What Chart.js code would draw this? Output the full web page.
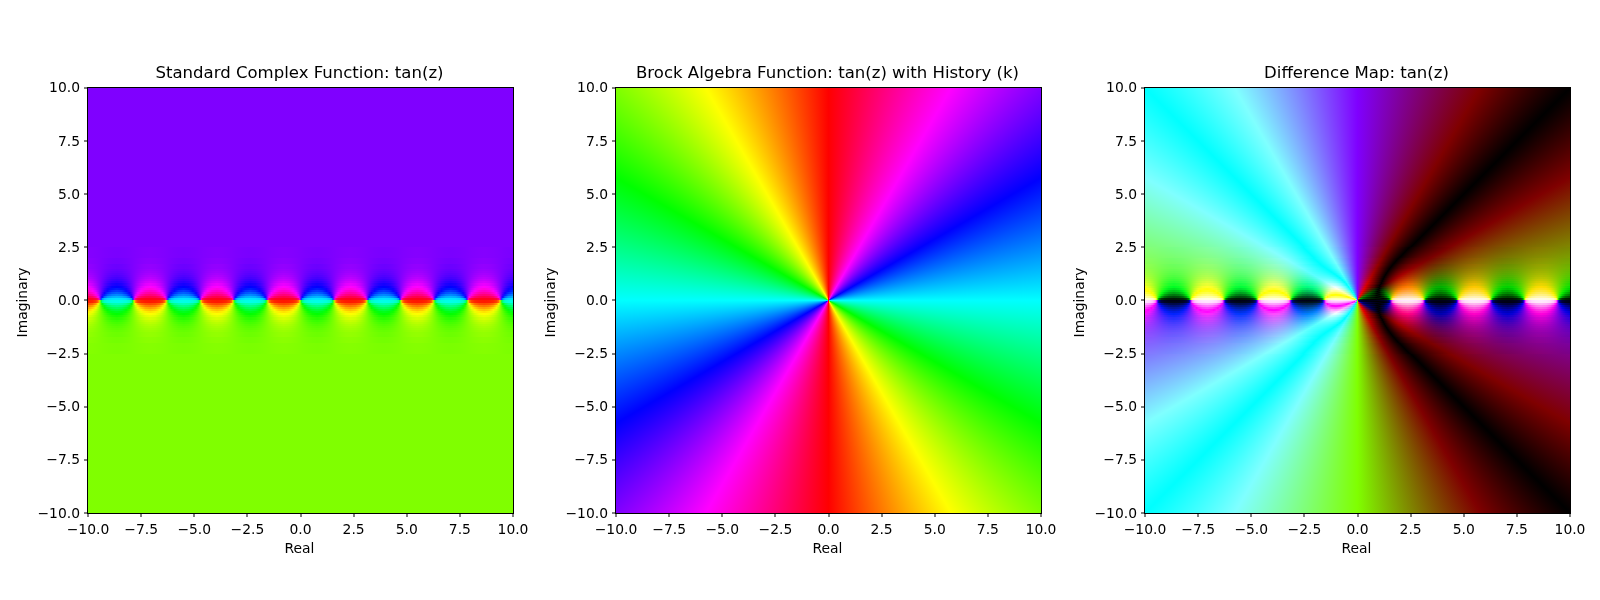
<!DOCTYPE html>
<html><head><meta charset="utf-8">
<script src="https://cdn.jsdelivr.net/npm/chart.js@4"></script>
<style>
html,body{margin:0;padding:0;background:#fff;width:1600px;height:600px;overflow:hidden}
.p{position:absolute;top:0;height:600px;width:544px}
canvas{display:block}
</style></head><body>
<div class="p" style="left:0"><canvas id="c1"></canvas></div>
<div class="p" style="left:528px"><canvas id="c2"></canvas></div>
<div class="p" style="left:1057px"><canvas id="c3"></canvas></div>
<script>
const titles = ['Standard Complex Function: tan(z)','Brock Algebra Function: tan(z) with History (k)','Difference Map: tan(z)'];
const xLabel = 'Real';
const yLabel = 'Imaginary';
const tickValues = [-10,-7.5,-5,-2.5,0,2.5,5,7.5,10];

// Panel 2: hue read around the origin (angle ccw from +Real, degrees)
const wheelAngles = [0,30,60,90,120,150,180,210,240,270,300,330,360];
const wheelHues   = [180,240,300,0,60,120,180,240,300,0,60,120,180];

// Panel 1: one repeat of the band along the real axis
const polePeriod = 3.14159;
const periodOffsets = [-4,-3,-2,-1,0,1,2,3];
const bandX = [0,.05,.1,.2,.35,.55,.785,1.02,1.22,1.37,1.47,1.52,1.5708];
const bandColumn = [0,1,2,3,4,5,6,5,4,3,2,1,0];
const bandEdges = [0,.1,.2,.3,.4,.5,.6,.7,.8,.9,1,1.1,1.2,1.3,1.4,1.5,1.7,2,2.5,10];
const bandPhase = [
 [90,45.1,26.8,14.4,8.8,6.4,5.7],
 [90,71.8,56.9,38.0,25.3,18.9,16.9],
 [90,79.2,69.1,53.2,39.0,30.3,27.5],
 [90,82.5,75.3,62.8,49.7,40.4,37.2],
 [90,84.4,79.0,69.2,57.9,49.0,45.8],
 [90,85.7,81.5,73.7,64.3,56.3,53.2],
 [90,86.6,83.3,77.1,69.2,62.3,59.5],
 [90,87.3,84.7,79.6,73.2,67.3,64.8],
 [90,87.8,85.7,81.6,76.3,71.4,69.3],
 [90,88.3,86.5,83.2,78.8,74.7,73.0],
 [90,88.6,87.2,84.5,80.9,77.5,76.0],
 [90,88.8,87.7,85.5,82.6,79.8,78.5],
 [90,89.1,88.1,86.3,83.9,81.6,80.6],
 [90,89.2,88.5,87.0,85.0,83.1,82.3],
 [90,89.4,88.7,87.5,85.9,84.4,83.7],
 [90,89.5,89.1,88.2,87.0,85.8,85.3],
 [90,89.7,89.4,88.9,88.2,87.5,87.2],
 [90,89.9,89.7,89.5,89.2,88.9,88.7],
 [90,90,90,90,90,90,90]
];

const font = 'DejaVu Sans';
const hsl = h => `hsl(${h},100%,50%)`;

const rowMeta = [];
bandPhase.forEach((_, i) => { rowMeta.push({i, sign: 1});  });
bandPhase.forEach((_, i) => { rowMeta.push({i, sign: -1}); });
const rowData = rowMeta.map(r => ({
  x: 0,
  y: r.sign > 0 ? [bandEdges[r.i], bandEdges[r.i+1]] : [-bandEdges[r.i+1], -bandEdges[r.i]]
}));

function rowGradient(c) {
  const chart = c.chart, sx = chart.scales.x;
  const r = rowMeta[c.dataIndex];
  const lo = periodOffsets[0]*polePeriod, hi = (periodOffsets[periodOffsets.length-1]+1)*polePeriod;
  if (!r || !sx || !Number.isFinite(sx.getPixelForValue(lo))) return 'rgba(0,0,0,0)';
  const g = chart.ctx.createLinearGradient(sx.getPixelForValue(lo),0,sx.getPixelForValue(hi),0);
  const ph = bandPhase[r.i];
  periodOffsets.forEach(k => {
    bandX.forEach((x, j) => {
      const t = ph[bandColumn[j]];
      g.addColorStop((k*polePeriod + x - lo)/(hi-lo), hsl(r.sign>0 ? 180+t : 180-t));
    });
    bandX.forEach((x, j) => {
      const t = ph[bandColumn[j]];
      g.addColorStop(Math.min(1,(k*polePeriod + polePeriod/2 + x - lo)/(hi-lo)), hsl(r.sign>0 ? 360-t : t));
    });
  });
  return g;
}
function wheelGradient(c) {
  const chart = c.chart, s = chart.scales;
  if (!s.x || !Number.isFinite(s.x.getPixelForValue(0)) || !Number.isFinite(s.y.getPixelForValue(0))) return 'rgba(0,0,0,0)';
  const g = chart.ctx.createConicGradient(0, s.x.getPixelForValue(0), s.y.getPixelForValue(0));
  wheelAngles.forEach((a, i) => g.addColorStop((360-a)/360, hsl(wheelHues[i])));
  return g;
}
const barBase = {grouped:false, barThickness:1200, inflateAmount:0, borderWidth:0, borderSkipped:false};
const rowsSet = () => Object.assign({data: rowData.slice(), backgroundColor: rowGradient}, barBase);
const wheelSet = () => Object.assign({data: [{x:0,y:[-10,10]}], backgroundColor: wheelGradient}, barBase);

function nudge(scale, method, dx, dy){
  const orig = scale[method];
  scale[method] = function(a){
    const c = this.ctx; c.save(); c.translate(dx,dy); orig.call(this,a); c.restore();
  };
}
const framePlugin = {
  id:'frame',
  afterLayout(chart){
    if(chart.$nudged) return;
    chart.$nudged = true;
    chart.titleBlock.left -= 1; chart.titleBlock.right -= 1;
    nudge(chart.scales.y,'drawLabels',0,1);
    nudge(chart.scales.y,'drawTitle',0,2);
    nudge(chart.scales.x,'drawTitle',-1,0);
  },
  beforeDatasetDraw(chart,args){
    args.meta.data.forEach(el=>{el.y=Math.round(el.y);el.base=Math.round(el.base);});
    if(chart.options.plugins.frame.diff && args.index===0) chart.ctx.globalCompositeOperation='difference';
  },
  afterDatasetDraw(chart){chart.ctx.globalCompositeOperation='source-over';},
  afterDraw(chart){
    const a=chart.chartArea,c=chart.ctx;
    c.save();c.strokeStyle='#000';c.lineWidth=1;
    c.strokeRect(Math.round(a.left)-.5,Math.round(a.top)-.5,Math.round(a.right-a.left)+1,Math.round(a.bottom-a.top)+1);
    c.restore();
  }
};
const fmt = v => Number(v).toFixed(1).replace('-','\u2212');
function axis(label, isX){
  return {
    type:'linear', min:-10, max:10, offset:false,
    afterBuildTicks(s){ s.ticks = tickValues.map(v=>({value:v})); },
    afterFit(s){
      if(isX){ s.height=87; } else { s.width=88; }
      s.paddingLeft=s.paddingRight=s.paddingTop=s.paddingBottom=0;
    },
    border:{display:false},
    grid:{offset:false,lineWidth:0,drawOnChartArea:false,drawTicks:true,tickLength:4,tickWidth:1,tickColor:'#000'},
    ticks:{autoSkip:false,maxRotation:0,minRotation:0,padding:isX?5:4,color:'#000',font:{family:font,size:13.89},callback:fmt},
    title:{display:true,text:label,color:'#000',font:{family:font,size:13.89},padding:isX?{top:3,bottom:42}:{top:15,bottom:4}}
  };
}
function make(id,title,datasets,diff){
  const el=document.getElementById(id);
  new Chart(el,{
    type:'bar',
    data:{datasets},
    plugins:[framePlugin],
    options:{
      responsive:false,animation:false,devicePixelRatio:1,
      layout:{padding:{left:0,right:31,top:0,bottom:0}},
      scales:{x:axis(xLabel,true),y:axis(yLabel,false)},
      plugins:{
        legend:{display:false},tooltip:{enabled:false},
        frame:{diff},
        title:{display:true,fullSize:false,text:title,color:'#000',font:{family:font,size:16.55,weight:'normal'},padding:{top:64,bottom:4}}
      }
    }
  });
}
['c1','c2','c3'].forEach(id=>{const e=document.getElementById(id);e.width=544;e.height=600;e.style.width='544px';e.style.height='600px';});
make('c1',titles[0],[rowsSet()],false);
make('c2',titles[1],[wheelSet()],false);
make('c3',titles[2],[rowsSet(),wheelSet()],true);
</script>
</body></html>
